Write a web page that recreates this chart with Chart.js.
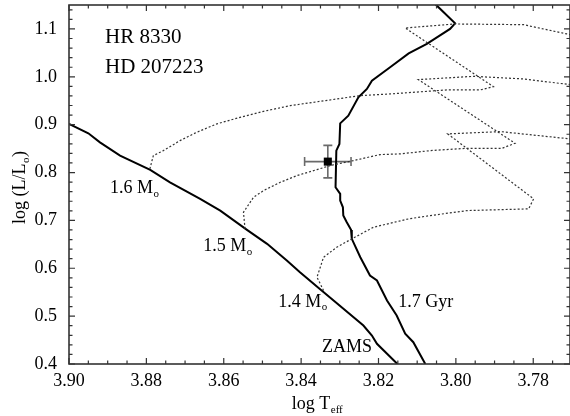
<!DOCTYPE html>
<html><head><meta charset="utf-8">
<script src="https://cdn.jsdelivr.net/npm/chart.js@4.4.0/dist/chart.umd.min.js"></script>
<style>html,body{margin:0;padding:0;background:#fff}#wrap{width:570px;height:416px}</style>
</head><body><div id="wrap"><canvas id="c" width="570" height="416"></canvas></div>
<script>
// ---- tick labels ----
const xTicks = [3.90, 3.88, 3.86, 3.84, 3.82, 3.80, 3.78];
const yTicks = [0.4, 0.5, 0.6, 0.7, 0.8, 0.9, 1.0, 1.1];

// ---- ZAMS ----
const zamsT = [3.900, 3.8950, 3.8920, 3.8868, 3.8790, 3.8739, 3.8661, 3.8609, 3.8540, 3.8488, 3.8437, 3.8403, 3.8347, 3.8239, 3.8217, 3.8204, 3.8151];
const zamsL = [0.9016, 0.8819, 0.8631, 0.8354, 0.8055, 0.7796, 0.7449, 0.7205, 0.6802, 0.6510, 0.6161, 0.5917, 0.5535, 0.4804, 0.4595, 0.4422, 0.4000];

// ---- 1.7 Gyr isochrone ----
const isoT = [3.8062, 3.8049, 3.8002, 3.8015, 3.8075, 3.8122, 3.8170, 3.8217, 3.8230, 3.8252, 3.8278, 3.8299, 3.8301, 3.8309, 3.8311, 3.8299, 3.8299, 3.8292, 3.8291, 3.8282, 3.8271, 3.8269, 3.8247, 3.8222, 3.8204, 3.8178, 3.8153, 3.8131, 3.8110, 3.8079];
const isoL = [1.159, 1.1486, 1.1116, 1.1000, 1.0686, 1.0490, 1.0198, 0.9920, 0.9747, 0.9571, 0.9189, 0.9028, 0.8598, 0.8458, 0.7692, 0.7554, 0.7414, 0.7274, 0.7101, 0.6961, 0.6802, 0.6614, 0.6230, 0.5848, 0.5744, 0.5326, 0.5013, 0.4631, 0.4455, 0.4000];

// ---- evolutionary tracks ----
const t16T = [3.8791, 3.8782, 3.8756, 3.8713, 3.8670, 3.8618, 3.8558, 3.8497, 3.8428, 3.8247, 3.8170, 3.8023, 3.7937, 3.7903, 3.8131, 3.8002, 3.7825, 3.7713, 3.7679];
const t16L = [0.8076, 0.8354, 0.8458, 0.8667, 0.8840, 0.9016, 0.9153, 0.9279, 0.9398, 0.9607, 0.9642, 0.9726, 0.9726, 0.9794, 1.1020, 1.1104, 1.1089, 1.0895, 1.0839];
const t15T = [3.8545, 3.8549, 3.8523, 3.8497, 3.8454, 3.8411, 3.8359, 3.8325, 3.8273, 3.8196, 3.8144, 3.8066, 3.7971, 3.7881, 3.7847, 3.8097, 3.7954, 3.7825, 3.7704, 3.7678];
const t15L = [0.6823, 0.7170, 0.7483, 0.7623, 0.7796, 0.7936, 0.8061, 0.8145, 0.8235, 0.8375, 0.8389, 0.8458, 0.8506, 0.8506, 0.8611, 0.9941, 1.0010, 0.9955, 0.9836, 0.9794];
const t14T = [3.8342, 3.8359, 3.8342, 3.8308, 3.8269, 3.8213, 3.8170, 3.8122, 3.8066, 3.7971, 3.7812, 3.7799, 3.8021, 3.7885, 3.7704, 3.7678];
const t14L = [0.5535, 0.5813, 0.6230, 0.6439, 0.6614, 0.6857, 0.6940, 0.7032, 0.7101, 0.7205, 0.7241, 0.7450, 0.8807, 0.8855, 0.8702, 0.8667];

// ---- star HR 8330 ----
const starT = [3.8331];
const starL = [0.8228];
const starErrT = [0.006];
const starErrL = [0.034];

// ---- labels: [text, subscript, logT (left), logL (baseline), size] ----
const labels = [
  ['HR 8330', '', 3.8907, 1.0713, 21],
  ['HD 207223', '', 3.8907, 1.0087, 21],
  ['1.6 M', 'o', 3.8894, 0.7581, 18],
  ['1.5 M', 'o', 3.8653, 0.6370, 18],
  ['1.4 M', 'o', 3.8459, 0.5201, 18],
  ['1.7 Gyr', '', 3.8149, 0.5201, 18],
  ['ZAMS', '', 3.8346, 0.4261, 18]
];

const FONT = '"Liberation Serif", "Times New Roman", serif';
const zip = (a, b) => a.map((v, i) => ({x: v, y: b[i]}));

function drawSub(ctx, main, sub, x, y, size, align) {
  ctx.font = size + 'px ' + FONT;
  const w1 = ctx.measureText(main).width;
  const subSize = Math.round(size * 0.62);
  ctx.font = subSize + 'px ' + FONT;
  const w2 = sub ? ctx.measureText(sub).width : 0;
  let x0 = x;
  if (align === 'center') x0 = x - (w1 + w2) / 2;
  ctx.textAlign = 'left';
  ctx.textBaseline = 'alphabetic';
  ctx.font = size + 'px ' + FONT;
  ctx.fillText(main, x0, y);
  if (sub) {
    ctx.font = subSize + 'px ' + FONT;
    ctx.fillText(sub, x0 + w1 + 0.5, y + size * 0.22);
  }
}

const decor = {
  id: 'decor',
  beforeDatasetsDraw(chart) {
    const ctx = chart.ctx, xs = chart.scales.x, ys = chart.scales.y;
    ctx.save();
    ctx.strokeStyle = '#6a6a6a';
    ctx.lineWidth = 1.6;
    starT.forEach((t, i) => {
      const px = xs.getPixelForValue(t), py = ys.getPixelForValue(starL[i]);
      const x1 = xs.getPixelForValue(t + starErrT[i]), x2 = xs.getPixelForValue(t - starErrT[i]);
      const y1 = ys.getPixelForValue(starL[i] + starErrL[i]), y2 = ys.getPixelForValue(starL[i] - starErrL[i]);
      ctx.beginPath();
      ctx.moveTo(x1, py); ctx.lineTo(x2, py);
      ctx.moveTo(x1, py - 4.5); ctx.lineTo(x1, py + 4.5);
      ctx.moveTo(x2, py - 4.5); ctx.lineTo(x2, py + 4.5);
      ctx.moveTo(px, y1); ctx.lineTo(px, y2);
      ctx.moveTo(px - 4.5, y1); ctx.lineTo(px + 4.5, y1);
      ctx.moveTo(px - 4.5, y2); ctx.lineTo(px + 4.5, y2);
      ctx.stroke();
    });
    ctx.restore();
  },
  afterDraw(chart) {
    const ctx = chart.ctx, xs = chart.scales.x, ys = chart.scales.y, a = chart.chartArea;
    ctx.save();
    ctx.strokeStyle = '#333';
    ctx.lineWidth = 1.6;
    ctx.strokeRect(a.left, a.top, a.right - a.left, a.bottom - a.top);
    ctx.lineWidth = 1.2;
    ctx.beginPath();
    const xMin = Math.min(xs.min, xs.max), xMax = Math.max(xs.min, xs.max);
    for (let k = Math.ceil(xMin / 0.005 - 1e-6); k * 0.005 <= xMax + 1e-9; k++) {
      const v = k * 0.005;
      const major = Math.abs(v / 0.02 - Math.round(v / 0.02)) < 1e-6;
      const L = major ? 6 : 3.5;
      const p = xs.getPixelForValue(v);
      ctx.moveTo(p, a.bottom); ctx.lineTo(p, a.bottom - L);
      ctx.moveTo(p, a.top); ctx.lineTo(p, a.top + L);
    }
    for (let k = Math.ceil(ys.min / 0.02 - 1e-6); k * 0.02 <= ys.max + 1e-9; k++) {
      const v = k * 0.02;
      const major = Math.abs(v / 0.1 - Math.round(v / 0.1)) < 1e-6;
      const L = major ? 6 : 3.5;
      const p = ys.getPixelForValue(v);
      ctx.moveTo(a.left, p); ctx.lineTo(a.left + L, p);
      ctx.moveTo(a.right, p); ctx.lineTo(a.right - L, p);
    }
    ctx.stroke();
    ctx.fillStyle = '#000';
    labels.forEach(l => {
      drawSub(ctx, l[0], l[1], xs.getPixelForValue(l[2]), ys.getPixelForValue(l[3]), l[4], 'left');
    });
    drawSub(ctx, 'log T', 'eff', 317, 409, 18, 'center');
    ctx.save();
    ctx.translate(25, (a.top + a.bottom) / 2 + 3);
    ctx.rotate(-Math.PI / 2);
    ctx.font = '18px ' + FONT;
    const wa = ctx.measureText('log (L/L').width;
    ctx.font = '11px ' + FONT;
    const wb = ctx.measureText('o').width;
    ctx.font = '18px ' + FONT;
    const wc = ctx.measureText(')').width;
    let x0 = -(wa + wb + wc + 1) / 2;
    ctx.textAlign = 'left';
    ctx.fillText('log (L/L', x0, 0);
    ctx.font = '11px ' + FONT;
    ctx.fillText('o', x0 + wa + 0.5, 4);
    ctx.font = '18px ' + FONT;
    ctx.fillText(')', x0 + wa + wb + 1, 0);
    ctx.restore();
    ctx.restore();
  }
};

const dotted = (data) => ({
  data, showLine: true, borderColor: '#333', borderWidth: 1.2, borderDash: [2, 2],
  pointRadius: 0, tension: 0, fill: false
});
const solid = (data) => ({
  data, showLine: true, borderColor: '#000', borderWidth: 2,
  pointRadius: 0, tension: 0, fill: false
});

function fitX(s) { s.height = 52; s.paddingLeft = 0; s.paddingRight = 0; s.paddingTop = 0; s.paddingBottom = 0; }
function fitY(s) { s.width = 69; s.paddingLeft = 0; s.paddingRight = 0; s.paddingTop = 0; s.paddingBottom = 0; }

new Chart(document.getElementById('c'), {
  type: 'scatter',
  data: {
    datasets: [
      dotted(zip(t16T, t16L)),
      dotted(zip(t15T, t15L)),
      dotted(zip(t14T, t14L)),
      solid(zip(isoT, isoL)),
      solid(zip(zamsT, zamsL)),
      {
        data: zip(starT, starL), showLine: false, pointStyle: 'rect', pointRadius: 5.7,
        backgroundColor: '#000', borderColor: '#000', borderWidth: 0
      }
    ]
  },
  options: {
    responsive: false,
    animation: false,
    devicePixelRatio: 1,
    layout: {autoPadding: false, padding: {top: 5, right: 0, left: 0, bottom: 0}},
    plugins: {legend: {display: false}, tooltip: {enabled: false}},
    scales: {
      x: {
        type: 'linear', reverse: true, min: 3.7705, max: 3.90,
        afterFit: fitX,
        afterBuildTicks(s) { s.ticks = xTicks.map(v => ({value: v})); },
        grid: {display: false, drawTicks: false}, border: {display: false},
        ticks: {padding: 6, color: '#000', font: {family: FONT, size: 18},
          callback: v => v.toFixed(2), maxRotation: 0, autoSkip: false}
      },
      y: {
        type: 'linear', min: 0.4, max: 1.15,
        afterFit: fitY,
        afterBuildTicks(s) { s.ticks = yTicks.map(v => ({value: v})); },
        grid: {display: false, drawTicks: false}, border: {display: false},
        ticks: {padding: 12, color: '#000', font: {family: FONT, size: 18},
          callback: v => v.toFixed(1), autoSkip: false}
      }
    }
  },
  plugins: [decor]
});
</script>
</body></html>
